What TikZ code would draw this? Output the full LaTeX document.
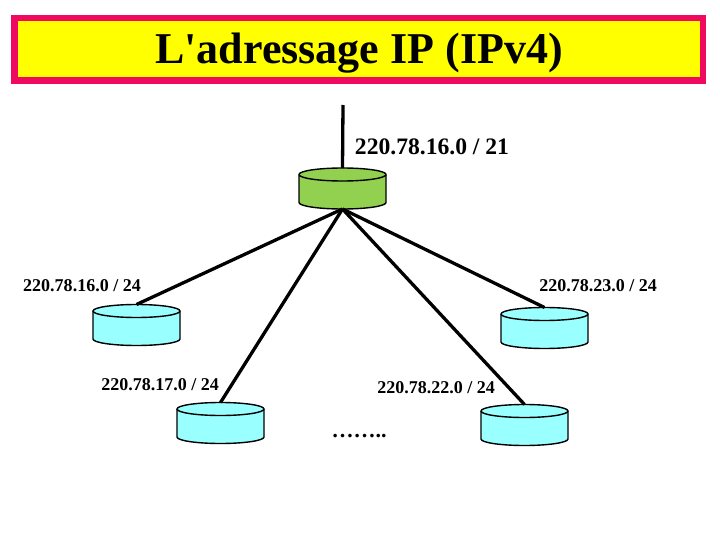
\documentclass[tikz,border=0pt]{standalone}
\usepackage{fontspec}
\setmainfont{Liberation Serif}
\definecolor{pinkred}{RGB}{240,10,95}
\definecolor{titleyellow}{RGB}{255,255,0}
\definecolor{routergreen}{RGB}{146,208,80}
\definecolor{routercyan}{RGB}{153,255,255}
\tikzset{
    drum/.style={draw=black, line width=1.4pt, fill=#1, line join=round},
    drumbox/.style={minimum width=87pt, minimum height=41pt, inner sep=0pt, outer sep=0pt},
    link/.style={line width=3.3pt, black},
    netlabel/.style={font=\fontsize{18}{20}\selectfont\bfseries, inner sep=0pt}
}
% name, x, y of the centre, colour
\newcommand{\drumnode}[4]{
    \draw[drum=#4] (#2-43.5,#3-14) -- (#2-43.5,#3+14)
        arc[start angle=180, end angle=360, x radius=43.5pt, y radius=6.5pt]
        -- (#2+43.5,#3-14)
        arc[start angle=0, end angle=180, x radius=43.5pt, y radius=6.5pt] -- cycle;
    \draw[drum=#4] (#2-43.5,#3-14)
        arc[start angle=180, end angle=360, x radius=43.5pt, y radius=6.5pt];
    \node[drumbox] (#1) at (#2,#3) {};
}

\begin{document}
\begin{tikzpicture}[x=1pt, y=-1pt]
    \useasboundingbox (0,0) rectangle (720,540);

    \node[draw=pinkred, fill=titleyellow, line width=6.5pt, minimum width=688.5pt, minimum height=62.5pt,
        inner sep=0pt] (title) at (358.5,49.5) {};
    \node[font=\fontsize{44}{48}\selectfont\bfseries, inner sep=0pt] (titletext) at (359,53) {L\textquotesingle adressage IP (IPv4)};

    \drumnode{root}{342.5}{188.5}{routergreen}
    \drumnode{net16}{136.5}{325}{routercyan}
    \drumnode{net17}{220.5}{423}{routercyan}
    \drumnode{net22}{524.5}{425}{routercyan}
    \drumnode{net23}{544.5}{328}{routercyan}

    \coordinate (uplink) at (343,105);
    \draw[link] (uplink) -- (root.north);
    \draw[link] (root.south) -- (net16.north);
    \draw[link] (root.south) -- (net17.north);
    \draw[link] (root.south) -- (net22.north);
    \draw[link] (root.south) -- (net23.north);

    \node[font=\fontsize{23.6}{26}\selectfont\bfseries, inner sep=0pt] (lblroot) at (432,147) {220.78.16.0 / 21};
    \node[netlabel] (lbl16) at (82,286) {220.78.16.0 / 24};
    \node[netlabel] (lbl17) at (160,385) {220.78.17.0 / 24};
    \node[netlabel] (lbl22) at (436,388) {220.78.22.0 / 24};
    \node[netlabel] (lbl23) at (598,286) {220.78.23.0 / 24};
    \node[font=\fontsize{22}{24}\selectfont\bfseries, inner sep=0pt, anchor=base] (more) at (359,437) {……..};
\end{tikzpicture}
\end{document}
